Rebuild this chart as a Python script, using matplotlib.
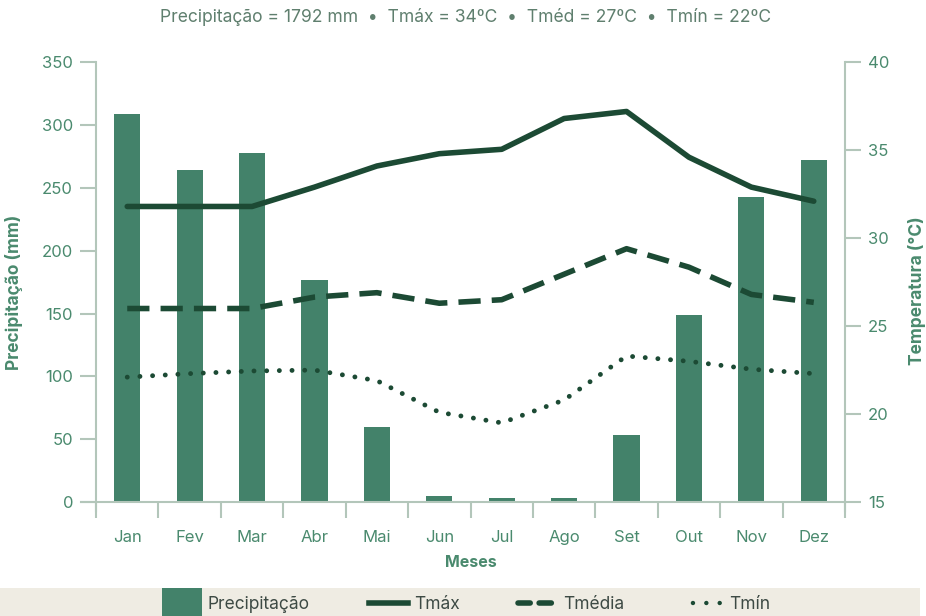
import matplotlib.pyplot as plt
from matplotlib.patches import Rectangle, Patch
from matplotlib.lines import Line2D
from matplotlib.legend_handler import HandlerPatch

meses = ['Jan', 'Fev', 'Mar', 'Abr', 'Mai', 'Jun', 'Jul', 'Ago', 'Set', 'Out', 'Nov', 'Dez']
precipitacao = [309, 264, 278, 177, 60, 5, 3, 3, 53, 149, 243, 272]
tmax = [31.8, 31.8, 31.8, 32.9, 34.1, 34.8, 35.05, 36.8, 37.2, 34.6, 32.9, 32.1]
tmed = [26.0, 26.0, 26.0, 26.65, 26.9, 26.3, 26.5, 27.95, 29.4, 28.35, 26.8, 26.35]
tmin = [22.1, 22.3, 22.45, 22.5, 21.9, 20.1, 19.5, 20.8, 23.3, 23.0, 22.55, 22.3]
titulo = 'Precipitação = 1792 mm  •  Tmáx = 34ºC  •  Tméd = 27ºC  •  Tmín = 22ºC'

bar_color = '#43826a'
line_color = '#1c4a34'
text_color = '#4a8a6e'
axis_color = '#b3c6ba'

plt.rcParams['font.family'] = ['Inter', 'DejaVu Sans']

fig = plt.figure(figsize=(9.26, 6.16), dpi=100)
ax = fig.add_axes([0.1037, 0.185, 0.8088, 0.714])
ax2 = ax.twinx()

x = list(range(len(meses)))
ax.bar(x, precipitacao, width=0.42, color=bar_color, zorder=2)
ax.set_xlim(-0.5, 11.5)
ax.set_ylim(0, 350)
ax.set_yticks(range(0, 351, 50))
ax2.set_ylim(15, 40)
ax2.set_yticks(range(15, 41, 5))

ax2.plot(x, tmax, color=line_color, lw=4, solid_capstyle='round', solid_joinstyle='round')
ax2.plot(x, tmed, color=line_color, lw=4, linestyle=(0, (4, 2)), dash_capstyle='butt')
ax2.plot(x, tmin, color=line_color, lw=3.5, linestyle=(0, (0.01, 2.6)), dash_capstyle='round')

for a in (ax, ax2):
    for s in a.spines.values():
        s.set_visible(False)

# axis lines
ax.plot([0, 0], [-0.02, 1], transform=ax.transAxes, color=axis_color, lw=1.5, clip_on=False)
ax.plot([1, 1], [-0.02, 1], transform=ax.transAxes, color=axis_color, lw=1.5, clip_on=False)
ax.plot([-0.02, 1.0], [0, 0], transform=ax.transAxes, color=axis_color, lw=1.5, clip_on=False)

ax.tick_params(axis='y', length=11.5, width=1.5, color=axis_color, labelcolor=text_color,
               labelsize=12, pad=5)
ax2.tick_params(axis='y', length=11.5, width=1.5, color=axis_color, labelcolor=text_color,
                labelsize=12, pad=5)
ax.set_xticks([i - 0.5 for i in range(13)])
ax.set_xticklabels([])
ax.set_xticks(x, minor=True)
ax.set_xticklabels(meses, minor=True)
ax.tick_params(axis='x', which='major', length=11.5, width=1.5, color=axis_color)
ax.tick_params(axis='x', which='minor', length=0, labelcolor=text_color, labelsize=12, pad=20)

ax.set_xlabel('Meses', color=text_color, fontsize=11.5, fontweight='bold', labelpad=7)
ax.set_ylabel('Precipitação (mm)', color=text_color, fontsize=12.5, fontweight='bold')
ax2.set_ylabel('Temperatura (°C)', color=text_color, fontsize=12.5, fontweight='bold')
ax.yaxis.set_label_coords(-0.0975, 0.477)
ax2.yaxis.set_label_coords(1.084, 0.48)

fig.text(0.503, 0.973, titulo, ha='center', va='center', fontsize=12.6, color='#5f7f6e')

# legend band
fig.patches.append(Rectangle((0, 0), 0.994, 0.046, transform=fig.transFigure,
                             facecolor='#efece3', edgecolor='none', zorder=0))


def big_square(legend, orig_handle, xdescent, ydescent, width, height, fontsize):
    return Rectangle((-xdescent, -ydescent + height / 2 - 10.5), width, 21)


handles = [
    Patch(facecolor=bar_color, edgecolor='none'),
    Line2D([], [], color=line_color, lw=4),
    Line2D([], [], color=line_color, lw=4, linestyle=(0, (2.2, 1.6)), dash_capstyle='round'),
    Line2D([], [], color=line_color, lw=3.2, linestyle=(1, (0.01, 3.0)), dash_capstyle='round'),
]
labels = ['Precipitação', 'Tmáx', 'Tmédia', 'Tmín']
leg = fig.legend(handles, labels, loc='lower left', bbox_to_anchor=(0.166, -0.009), ncol=4,
                 frameon=False, handlelength=2.3, handletextpad=0.3, columnspacing=3.4,
                 borderpad=0, prop={'size': 12.5},
                 handler_map={Patch: HandlerPatch(patch_func=big_square)})
for t in leg.get_texts():
    t.set_color('#3d4a44')

fig.savefig('out.png', dpi=100)
